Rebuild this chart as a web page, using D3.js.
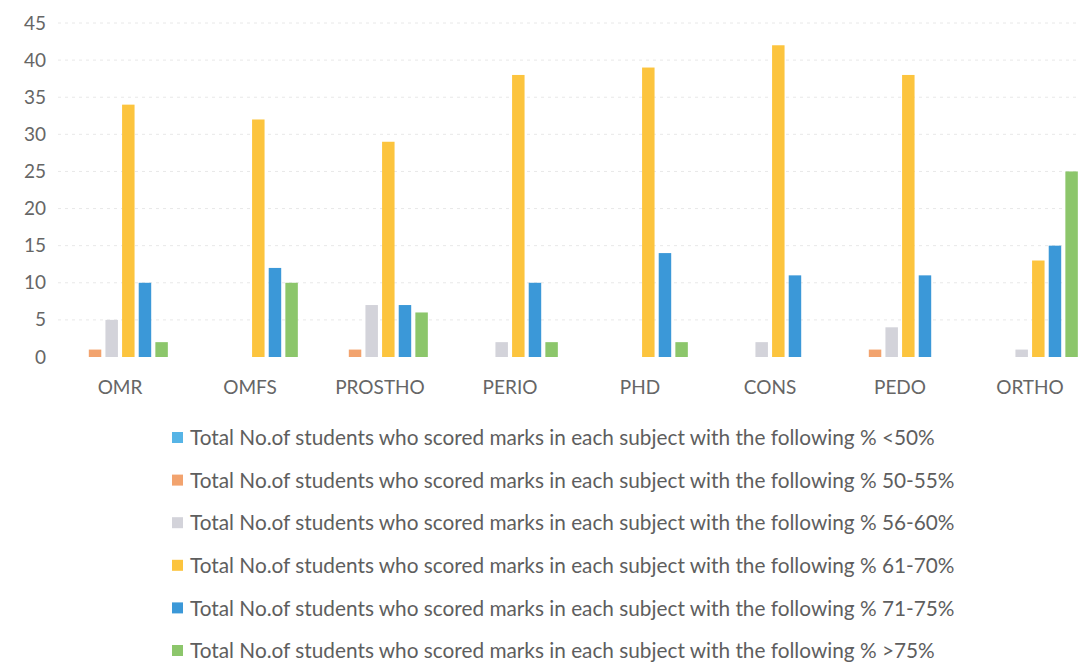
<!DOCTYPE html>
<html>
<head>
<meta charset="utf-8">
<script src="https://cdn.jsdelivr.net/npm/d3@7"></script>
<style>
  body { margin: 0; background: #fff; }
  svg { display: block; }
</style>
</head>
<body>
<div id="chart"></div>
<script>
// subjects and series
var subjects = ["OMR", "OMFS", "PROSTHO", "PERIO", "PHD", "CONS", "PEDO", "ORTHO"];
var seriesNames = ["<50%", "50-55%", "56-60%", "61-70%", "71-75%", ">75%"];
var below50 = [0, 0, 0, 0, 0, 0, 0, 0];
var s50to55 = [1, 0, 1, 0, 0, 0, 1, 0];
var s56to60 = [5, 0, 7, 2, 0, 2, 4, 1];
var s61to70 = [34, 32, 29, 38, 39, 42, 38, 13];
var s71to75 = [10, 12, 7, 10, 14, 11, 11, 15];
var above75 = [2, 10, 6, 2, 2, 0, 0, 25];
var yTicks = [0, 5, 10, 15, 20, 25, 30, 35, 40, 45];

var seriesValues = [below50, s50to55, s56to60, s61to70, s71to75, above75];
var colors = ["#56b4e6", "#f2a36e", "#d3d3da", "#fcc43e", "#3b98d8", "#8cc66b"];
var prefix = "Total No.of students who scored marks in each subject with the following % ";

var w = 1078, h = 664;
var font = "Lato, 'Open Sans', sans-serif";

var svg = d3.select("#chart").append("svg")
    .attr("width", w)
    .attr("height", h);

var y = d3.scaleLinear().domain([0, 45]).range([357, 23]);
var x0 = d3.scaleBand().domain(subjects).range([55, 1095]).paddingInner(0.2).paddingOuter(0.1);
var x1 = d3.scaleBand().domain(d3.range(seriesNames.length)).range([0, x0.bandwidth()]).padding(0.25);

// gridlines
svg.append("g").selectAll("line")
    .data(yTicks.slice(1))
    .enter().append("line")
    .attr("x1", 58).attr("x2", w)
    .attr("y1", function (d) { return y(d); })
    .attr("y2", function (d) { return y(d); })
    .attr("stroke", "#e8e8e8")
    .attr("stroke-dasharray", "3,4");

// y axis labels
var yAxis = d3.axisLeft(y).tickValues(yTicks).tickSize(0).tickPadding(0);
svg.append("g")
    .attr("transform", "translate(46,0)")
    .call(yAxis)
    .call(function (g) { g.select(".domain").remove(); })
    .selectAll("text")
    .attr("font-family", font)
    .attr("font-size", "19px")
    .attr("fill", "#666");

// x axis labels
var xAxis = d3.axisBottom(x0).tickSize(0).tickPadding(0);
svg.append("g")
    .attr("transform", "translate(0,380)")
    .call(xAxis)
    .call(function (g) { g.select(".domain").remove(); })
    .selectAll("text")
    .attr("font-family", font)
    .attr("font-size", "19px")
    .attr("fill", "#666");

// bars
var groups = svg.append("g").selectAll("g")
    .data(subjects)
    .enter().append("g")
    .attr("transform", function (d) { return "translate(" + x0(d) + ",0)"; });

groups.selectAll("rect")
    .data(function (d, i) {
        return seriesValues.map(function (vals, k) { return { k: k, v: vals[i] }; });
    })
    .enter().append("rect")
    .filter(function (d) { return d.v > 0; })
    .attr("x", function (d) { return x1(d.k); })
    .attr("width", x1.bandwidth())
    .attr("y", function (d) { return y(d.v); })
    .attr("height", function (d) { return y(0) - y(d.v); })
    .attr("fill", function (d) { return colors[d.k]; });

// legend
var legend = svg.append("g").selectAll("g")
    .data(seriesNames)
    .enter().append("g")
    .attr("transform", function (d, i) { return "translate(172," + (438 + i * 42.6) + ")"; });

legend.append("rect")
    .attr("x", 0).attr("y", -6)
    .attr("width", 11).attr("height", 11)
    .attr("fill", function (d, i) { return colors[i]; });

var legendText = legend.append("text")
    .attr("x", 18)
    .attr("dy", "0.35em")
    .attr("font-family", font)
    .attr("font-size", "18px")
    .attr("fill", "#5e5e5e")
    .text(function (d) { return prefix + d; });

// fit legend text to the width seen in the picture (row 2 ~765px)
var len = legendText.nodes()[1].getComputedTextLength();
legendText.attr("font-size", (18 * 765 / len) + "px");
</script>
</body>
</html>
